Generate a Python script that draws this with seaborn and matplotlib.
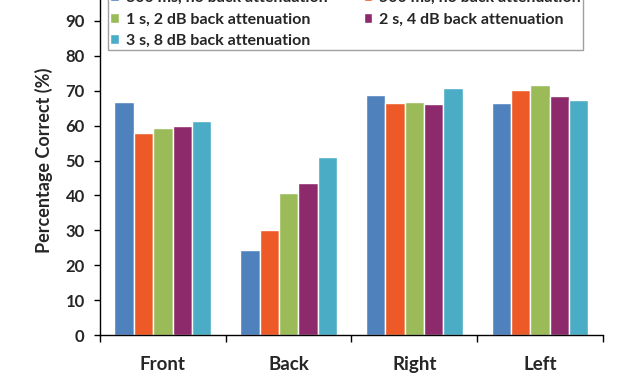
import matplotlib
matplotlib.use("Agg")
import matplotlib.pyplot as plt
import seaborn as sns
import pandas as pd
import numpy as np

categories = ["Front", "Back", "Right", "Left"]
series = ["300 ms, no back attenuation", "500 ms, no back attenuation",
          "1 s, 2 dB back attenuation", "2 s, 4 dB back attenuation",
          "3 s, 8 dB back attenuation"]
v_300ms = [66.9, 24.4, 68.8, 66.5]
v_500ms = [57.8, 30.1, 66.5, 70.3]
v_1s = [59.3, 40.6, 66.8, 71.7]
v_2s = [59.9, 43.6, 66.1, 68.4]
v_3s = [61.2, 51.1, 70.9, 67.3]
colors = ["#4F81BD", "#EE5A27", "#9BBB59", "#8C2A6C", "#4BACC6"]

values = [v_300ms, v_500ms, v_1s, v_2s, v_3s]
rows = []
for s, vals in zip(series, values):
    for c, v in zip(categories, vals):
        rows.append({"Direction": c, "Condition": s, "Value": v})
df = pd.DataFrame(rows)

sns.set_style("white")
plt.rcParams["font.family"] = ["Lato", "DejaVu Sans"]
plt.rcParams["font.weight"] = "bold"

fig = plt.figure(figsize=(6.27, 3.76), dpi=100)
ax = fig.add_axes([0.1595, 0.109, 0.802, 0.928])
sns.barplot(data=df, x="Direction", y="Value", hue="Condition", order=categories,
            hue_order=series, palette=colors, width=0.77, gap=0, saturation=1,
            ax=ax, legend=True)
ax.set_ylim(0, 100)
ax.set_xlim(-0.5, 3.5)
ax.set_yticks(np.arange(0, 101, 10))
ax.set_yticklabels([str(t) for t in range(0, 101, 10)], fontsize=12, fontweight="bold")
ax.tick_params(axis="y", direction="out", length=4, width=1, color="black", left=True, pad=7)
ax.set_xticks(range(len(categories)))
ax.set_xticklabels(categories, fontsize=13.5, fontweight="bold")
ax.tick_params(axis="x", which="major", length=0, pad=15)
ax.set_xticks(np.arange(-0.5, 3.6, 1), minor=True)
ax.tick_params(axis="x", which="minor", direction="out", length=5, width=1, color="black", bottom=True)
for s in ["top", "right"]:
    ax.spines[s].set_visible(False)
for s in ["left", "bottom"]:
    ax.spines[s].set_color("black")
    ax.spines[s].set_linewidth(1)
ax.set_xlabel("")
ax.set_ylabel("Percentage Correct (%)", fontsize=13, fontweight="bold", labelpad=2)

handles, labels = ax.get_legend_handles_labels()
order = [0, 2, 4, 1, 3]
ax.legend([handles[i] for i in order], [labels[i] for i in order], ncol=2,
          loc="lower left", bbox_to_anchor=(0.016, 0.817, 0.944, 0.2), mode="expand",
          borderaxespad=0,
          frameon=True, fancybox=False, edgecolor="#888888",
          prop={"size": 11.5, "weight": "bold"}, handlelength=0.55, handleheight=0.55,
          handletextpad=0.4, labelspacing=0.45, columnspacing=1.0, borderpad=0.15)

fig.savefig("out.png", dpi=100)
